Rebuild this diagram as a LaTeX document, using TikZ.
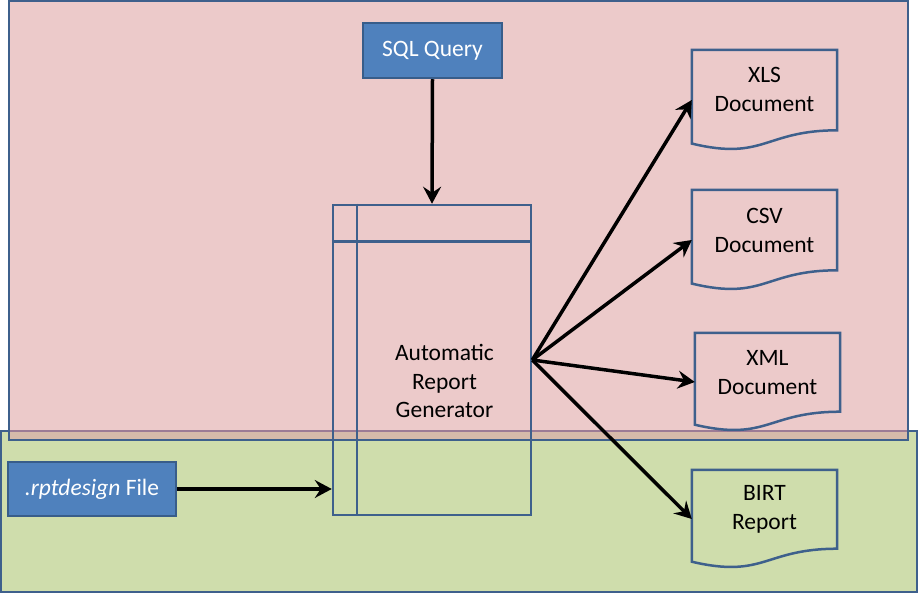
\documentclass[tikz,border=0pt]{standalone}
\usepackage{fontspec}
\setmainfont{Carlito}
\usetikzlibrary{arrows.meta,calc}
\definecolor{pinkbg}{RGB}{236,202,202}
\definecolor{greenbg}{RGB}{207,221,172}
\definecolor{bandbg}{RGB}{214,186,170}
\definecolor{bandline}{RGB}{156,123,149}
\definecolor{frameblue}{RGB}{62,96,140}
\definecolor{boxfill}{RGB}{79,129,189}
\definecolor{boxline}{RGB}{56,93,138}
\tikzset{
  inbox/.style={draw=boxline, line width=2.5pt, fill=boxfill, text=white, font=\fontsize{23.5}{28}\selectfont, inner sep=0pt},
  docbox/.style={draw=none, minimum width=145pt, inner sep=0pt},
  doctext/.style={align=center, font=\fontsize{23.5}{29}\selectfont, inner sep=0pt},
  docline/.style={draw=frameblue, line width=2.5pt},
  flow/.style={line width=3.5pt, -{Stealth[length=17pt,width=18pt,inset=6pt]}},
}
\newcommand\drawdoc[1]{%
  \path let \p1=(#1.north west), \p2=(#1.south east), \n1={\y1-\y2} in
    [docline] (\x1,\y1) -- (\x2,\y1) -- (\x2,{\y1-0.802*\n1})
    .. controls ({(\x1+\x2)/2},{\y1-0.802*\n1}) and ({(\x1+\x2)/2},{\y1-1.108*\n1}) .. (\x1,{\y1-0.934*\n1}) -- cycle;}
\begin{document}
\begin{tikzpicture}[x=1pt,y=-1pt]
\useasboundingbox (0,0) rectangle (918,593);
% backgrounds
\fill[pinkbg] (9,1) rectangle (908,440);
\fill[greenbg] (1,431) rectangle (917,592);
\fill[bandbg] (9,431) rectangle (908,440);
\draw[frameblue, line width=2.5pt] (1,431) rectangle (917,592);
\draw[bandline, line width=2.5pt] (9,431) -- (908,431);
\draw[frameblue, line width=2.5pt] (9,1) rectangle (908,440);
% boxes
\node[inbox, minimum width=139pt, minimum height=55pt] (sql) at (432.5,50.5) {SQL Query};
\node[inbox, minimum width=168pt, minimum height=54pt] (rpt) at (92,489) {\textit{.rptdesign} File};
\node[draw=frameblue, line width=2.5pt, minimum width=198pt, minimum height=310pt, inner sep=0pt] (gen) at (432,360) {};
\draw[frameblue, line width=2.5pt] ($(gen.north west)+(25,0)$) -- ($(gen.south west)+(25,0)$);
\draw[frameblue, line width=2.5pt] ($(gen.north west)+(0,38)$) -- ($(gen.north east)+(0,38)$);
\node[doctext, font=\fontsize{23.5}{28.5}\selectfont] (gentext) at (444.5,381) {Automatic\\Report\\Generator};
% documents
\node[docbox, minimum height=100pt] (xls) at (764.5,100) {};
\node[docbox, minimum height=100pt] (csv) at (764.5,240) {};
\node[docbox, minimum height=98pt] (xml) at (767.5,382) {};
\node[docbox, minimum height=98pt] (birt) at (764.5,519) {};
\drawdoc{xls}
\drawdoc{csv}
\drawdoc{xml}
\drawdoc{birt}
\node[doctext] (xlsT) at ($(xls.center)+(0,-10.5)$) {XLS\\Document};
\node[doctext] (csvT) at ($(csv.center)+(0,-10)$) {CSV\\Document};
\node[doctext] (xmlT) at ($(xml.center)+(0,-9)$) {XML\\Document};
\node[doctext] (birtT) at ($(birt.center)+(0,-9.5)$) {BIRT\\Report};
% connectors
\draw[flow] (sql.south) -- (gen.north);
\draw[flow] (rpt.east) -- (rpt.east -| gen.west);
\draw[flow] (gen.east) -- (xls.west);
\draw[flow] (gen.east) -- (csv.west);
\draw[flow] (gen.east) -- (xml.west);
\draw[flow] (gen.east) -- (birt.west);
\end{tikzpicture}
\end{document}
